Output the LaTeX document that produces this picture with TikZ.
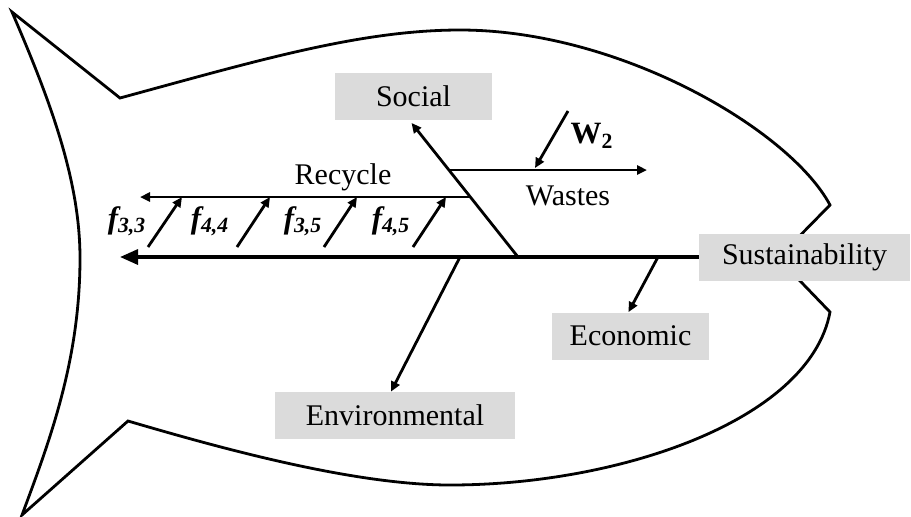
\documentclass[tikz,border=0pt]{standalone}
\usepackage{fontspec}
\setmainfont{Liberation Serif}
\usetikzlibrary{arrows.meta}
\begin{document}
\begin{tikzpicture}[x=0.5pt,y=-0.5pt,
  line join=miter,
  outline/.style={line width=1.4pt},
  bone/.style={line width=1.4pt},
  arr/.style={line width=1.4pt,-{Triangle[length=5pt,width=4.5pt]}},
  bigarr/.style={line width=1.6pt,-{Triangle[length=9pt,width=7.5pt]}},
  box/.style={fill=black!14,inner sep=0pt,minimum width=#1,minimum height=23.5pt,font=\fontsize{15}{17}\selectfont},
  lbl/.style={font=\fontsize{15}{17}\selectfont,inner sep=0pt},
  flbl/.style={font=\fontsize{15.5}{17}\selectfont\bfseries\itshape,inner sep=0pt}]
\useasboundingbox (0,0) rectangle (911,516);

% fish outline
\draw[outline] (120,98) .. controls (256,61) and (360,30) .. (460,30)
  .. controls (620,30) and (790,130) .. (830,205)
  -- (778,258) -- (830,312)
  .. controls (810,420) and (620,485) .. (450,485)
  .. controls (350,485) and (210,445) .. (128,421)
  -- (22,515)
  .. controls (50,440) and (80,360) .. (80,258)
  .. controls (80,180) and (50,100) .. (12,12)
  -- cycle;

% named points
\coordinate (head) at (120,257);
\coordinate (jsoc) at (518,257);
\coordinate (jenv) at (460,257);
\coordinate (jeco) at (658,257);
\coordinate (wstart) at (450,170);
\coordinate (wend) at (647,170);
\coordinate (w2start) at (568,111);
\coordinate (w2end) at (535,168);
\coordinate (rstart) at (471,197);
\coordinate (rend) at (140,197);
\coordinate (a1s) at (148,247); \coordinate (a1e) at (182,197);
\coordinate (a2s) at (237,247); \coordinate (a2e) at (270,197);
\coordinate (a3s) at (324,247); \coordinate (a3e) at (357,197);
\coordinate (a4s) at (413,247); \coordinate (a4e) at (446,197);

% boxes
\node[box=105.5pt] (sus) at (804.5,257) {Sustainability};
\node[box=78.5pt]  (eco) at (630.5,336) {Economic};
\node[box=120pt]   (env) at (395,415.5) {Environmental};
\node[box=78.5pt]  (soc) at (413.5,96) {Social};

% spine and bones
\draw[bigarr] (sus.west) -- (head);
\draw[arr] (jsoc) -- ([xshift=-1pt,yshift=-1.5pt]soc.south);
\draw[arr] (jenv) -- ([xshift=-2pt]env.north);
\draw[arr] (jeco) -- ([xshift=-1pt]eco.north);
\draw[arr] (wstart) -- (wend);
\draw[arr] (w2start) -- (w2end);
\draw[arr] (rstart) -- (rend);
\draw[arr] (a1s) -- (a1e);
\draw[arr] (a2s) -- (a2e);
\draw[arr] (a3s) -- (a3e);
\draw[arr] (a4s) -- (a4e);

% labels
\node[lbl] (rec) at (343,177) {Recycle};
\node[lbl] (was) at (568,196) {Wastes};
\node[lbl,font=\fontsize{15.5}{17}\selectfont\bfseries] (w2) at (592,136) {W\textsubscript{2}};
\node[flbl] (f33) at (127,221) {f\textsubscript{3,3}};
\node[flbl] (f44) at (210,221) {f\textsubscript{4,4}};
\node[flbl] (f35) at (303,221) {f\textsubscript{3,5}};
\node[flbl] (f45) at (391,221) {f\textsubscript{4,5}};
\end{tikzpicture}
\end{document}
